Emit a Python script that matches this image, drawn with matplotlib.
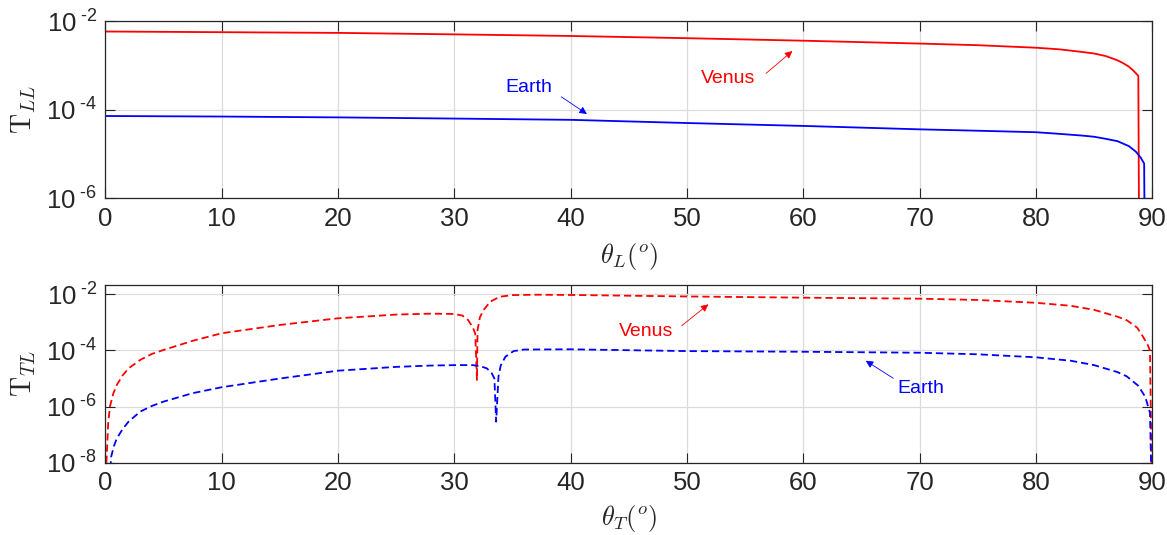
import numpy as np
import matplotlib
matplotlib.use("Agg")
import matplotlib.pyplot as plt
from matplotlib.ticker import FixedLocator, NullLocator, FuncFormatter

# ---- top panel: T_LL vs theta_L (solid lines) ----
theta_L_venus = [0, 10, 20, 30, 40, 50, 60, 70, 75, 80, 82, 84, 85, 86, 87, 87.5, 88,
                 88.4, 88.8, 88.9]
T_LL_venus = [5.8e-3, 5.6e-3, 5.4e-3, 5.0e-3, 4.6e-3, 4.1e-3, 3.6e-3, 3.1e-3, 2.85e-3,
              2.5e-3, 2.3e-3, 2.0e-3, 1.85e-3, 1.62e-3, 1.3e-3, 1.12e-3, 9.3e-4,
              7.5e-4, 5.8e-4, 1e-9]

theta_L_earth = [0, 10, 20, 30, 40, 50, 60, 70, 75, 80, 82, 84, 85, 86, 87, 88, 88.6,
                 89.0, 89.3, 89.4]
T_LL_earth = [7.2e-5, 7.0e-5, 6.7e-5, 6.3e-5, 5.9e-5, 5.0e-5, 4.3e-5, 3.6e-5, 3.35e-5,
              3.1e-5, 2.85e-5, 2.6e-5, 2.45e-5, 2.2e-5, 1.95e-5, 1.5e-5, 1.12e-5,
              8.3e-6, 6.1e-6, 1e-9]

# ---- bottom panel: T_TL vs theta_T (dashed lines) ----
theta_T_venus = [0.05, 0.1, 0.25, 0.4, 0.7, 1, 1.5, 2, 3, 4, 5, 7.5, 10, 15, 20, 25, 28, 30,
                 30.7, 31.2, 31.6, 31.8, 31.95, 32.0, 32.2, 32.5, 33.1, 33.9, 35, 37, 40,
                 50, 60, 70, 75, 80, 83, 85, 87, 87.8, 88.7, 89.2, 89.6, 89.8, 90]
T_TL_venus = [1e-10, 1e-8, 2.5e-7, 1e-6, 3e-6, 6e-6, 1.3e-5, 2.3e-5, 4.6e-5, 7.5e-5,
              1.04e-4, 2.2e-4, 4.1e-4, 8.1e-4, 1.4e-3, 1.9e-3, 2.05e-3, 2e-3, 1.75e-3,
              1.2e-3, 6.5e-4, 4e-4, 8.9e-6, 5.3e-4, 1.5e-3, 2.7e-3, 5.5e-3, 8.2e-3,
              9.4e-3, 9.7e-3, 9.5e-3, 8.4e-3, 7.6e-3, 7.0e-3, 6.3e-3, 5.0e-3, 3.9e-3,
              2.8e-3, 1.6e-3, 1.2e-3, 6.5e-4, 3.1e-4, 1.6e-4, 1e-4, 1e-10]

theta_T_earth = [0.35, 0.5, 0.75, 1, 1.5, 2, 3, 4, 5, 7.5, 10, 15, 20, 25, 28, 30, 31.6,
                 32.3, 32.8, 33.2, 33.45, 33.6, 33.8, 34.0, 34.4, 35.1, 36, 40, 50, 60,
                 70, 75, 80, 83, 85, 87, 87.8, 88.8, 89.4, 89.8, 90]
T_TL_earth = [1e-9, 1.6e-8, 4e-8, 7.4e-8, 1.6e-7, 2.9e-7, 6.6e-7, 1.05e-6, 1.5e-6, 3e-6,
              4.9e-6, 1e-5, 1.9e-5, 2.6e-5, 2.9e-5, 3e-5, 3e-5, 2.7e-5, 2.3e-5, 1.6e-5,
              1e-5, 2.9e-7, 1.2e-5, 3e-5, 6e-5, 9.5e-5, 1.08e-4, 1.1e-4, 9.5e-5, 9e-5,
              8.3e-5, 7.3e-5, 5.7e-5, 4.3e-5, 3e-5, 1.7e-5, 1.2e-5, 5.5e-6, 2.2e-6,
              6e-7, 1e-10]

plt.rcParams['font.family'] = ['Liberation Sans', 'DejaVu Sans']
plt.rcParams['mathtext.fontset'] = 'cm'

TEXT_C = '#262626'
GRID_C = '#dcdcdc'


def log_label(v, pos):
    # "10" followed by a raised exponent written with a short hyphen, MATLAB style
    e = int(round(np.log10(v)))
    sign = '\u2010' if e < 0 else ''
    return r'$\mathdefault{10^{\;%s%d}}$' % (sign, abs(e))


def style_axis(ax, yticks, ylim):
    ax.set_yscale('log')
    ax.set_xlim(0, 90)
    ax.set_ylim(*ylim)
    ax.set_xticks(np.arange(0, 91, 10))
    ax.yaxis.set_major_locator(FixedLocator(yticks))
    ax.yaxis.set_minor_locator(NullLocator())
    ax.yaxis.set_major_formatter(FuncFormatter(log_label))
    ax.grid(True, color=GRID_C, linewidth=0.9)
    ax.set_axisbelow(True)
    ax.tick_params(direction='in', top=True, right=True, length=7.5, width=0.8,
                   labelsize=18.5, colors=TEXT_C, pad=6)
    for s in ax.spines.values():
        s.set_color(TEXT_C)
        s.set_linewidth(0.9)


fig = plt.figure(figsize=(11.67, 5.35), dpi=100)
ax1 = fig.add_axes([0.0902, 0.6293, 0.8972, 0.3314])
ax2 = fig.add_axes([0.0902, 0.1351, 0.8972, 0.3321])

# top
ax1.plot(theta_L_venus, T_LL_venus, color='red', lw=1.3)
ax1.plot(theta_L_earth, T_LL_earth, color='blue', lw=1.3)
style_axis(ax1, [1e-6, 1e-4, 1e-2], (1e-6, 1e-2))
ax1.set_xlabel(r'$\theta_L(^o)$', fontsize=19, color=TEXT_C)
ax1.set_ylabel(r'$\mathrm{T}_{LL}$', fontsize=20, color=TEXT_C)
ax1.xaxis.set_label_coords(0.5, -0.24)
ax1.yaxis.set_label_coords(-0.064, 0.5)

# bottom
ax2.plot(theta_T_venus, T_TL_venus, color='red', lw=1.3, linestyle=(0, (4, 2.2)))
ax2.plot(theta_T_earth, T_TL_earth, color='blue', lw=1.3, linestyle=(0, (4, 2.2)))
style_axis(ax2, [1e-8, 1e-6, 1e-4, 1e-2], (1e-8, 10 ** -1.669))
ax2.set_xlabel(r'$\theta_T(^o)$', fontsize=19, color=TEXT_C)
ax2.set_ylabel(r'$\mathrm{T}_{TL}$', fontsize=20, color=TEXT_C)
ax2.xaxis.set_label_coords(0.5, -0.225)
ax2.yaxis.set_label_coords(-0.064, 0.5)

# annotations (text + thin arrow)
arrow_kw = dict(arrowstyle='-|>', lw=0.6, mutation_scale=11, shrinkA=0, shrinkB=0)

ax1.text(36.4, 3.1e-4, 'Earth', color='blue', fontsize=14, ha='center', va='center')
ax1.annotate('', xy=(41.4, 8e-5), xytext=(39.2, 1.95e-4),
             arrowprops=dict(color='blue', **arrow_kw))
ax1.text(53.55, 5.1e-4, 'Venus', color='red', fontsize=14, ha='center', va='center')
ax1.annotate('', xy=(59.06, 2.1e-3), xytext=(56.8, 6.6e-4),
             arrowprops=dict(color='red', **arrow_kw))

ax2.text(46.5, 4.65e-4, 'Venus', color='red', fontsize=14, ha='center', va='center')
ax2.annotate('', xy=(51.84, 4.4e-3), xytext=(49.55, 7.6e-4),
             arrowprops=dict(color='red', **arrow_kw))
ax2.text(70.1, 4.5e-6, 'Earth', color='blue', fontsize=14, ha='center', va='center')
ax2.annotate('', xy=(65.37, 4.3e-5), xytext=(67.74, 1.02e-5),
             arrowprops=dict(color='blue', **arrow_kw))

fig.savefig('out.png', dpi=100)
